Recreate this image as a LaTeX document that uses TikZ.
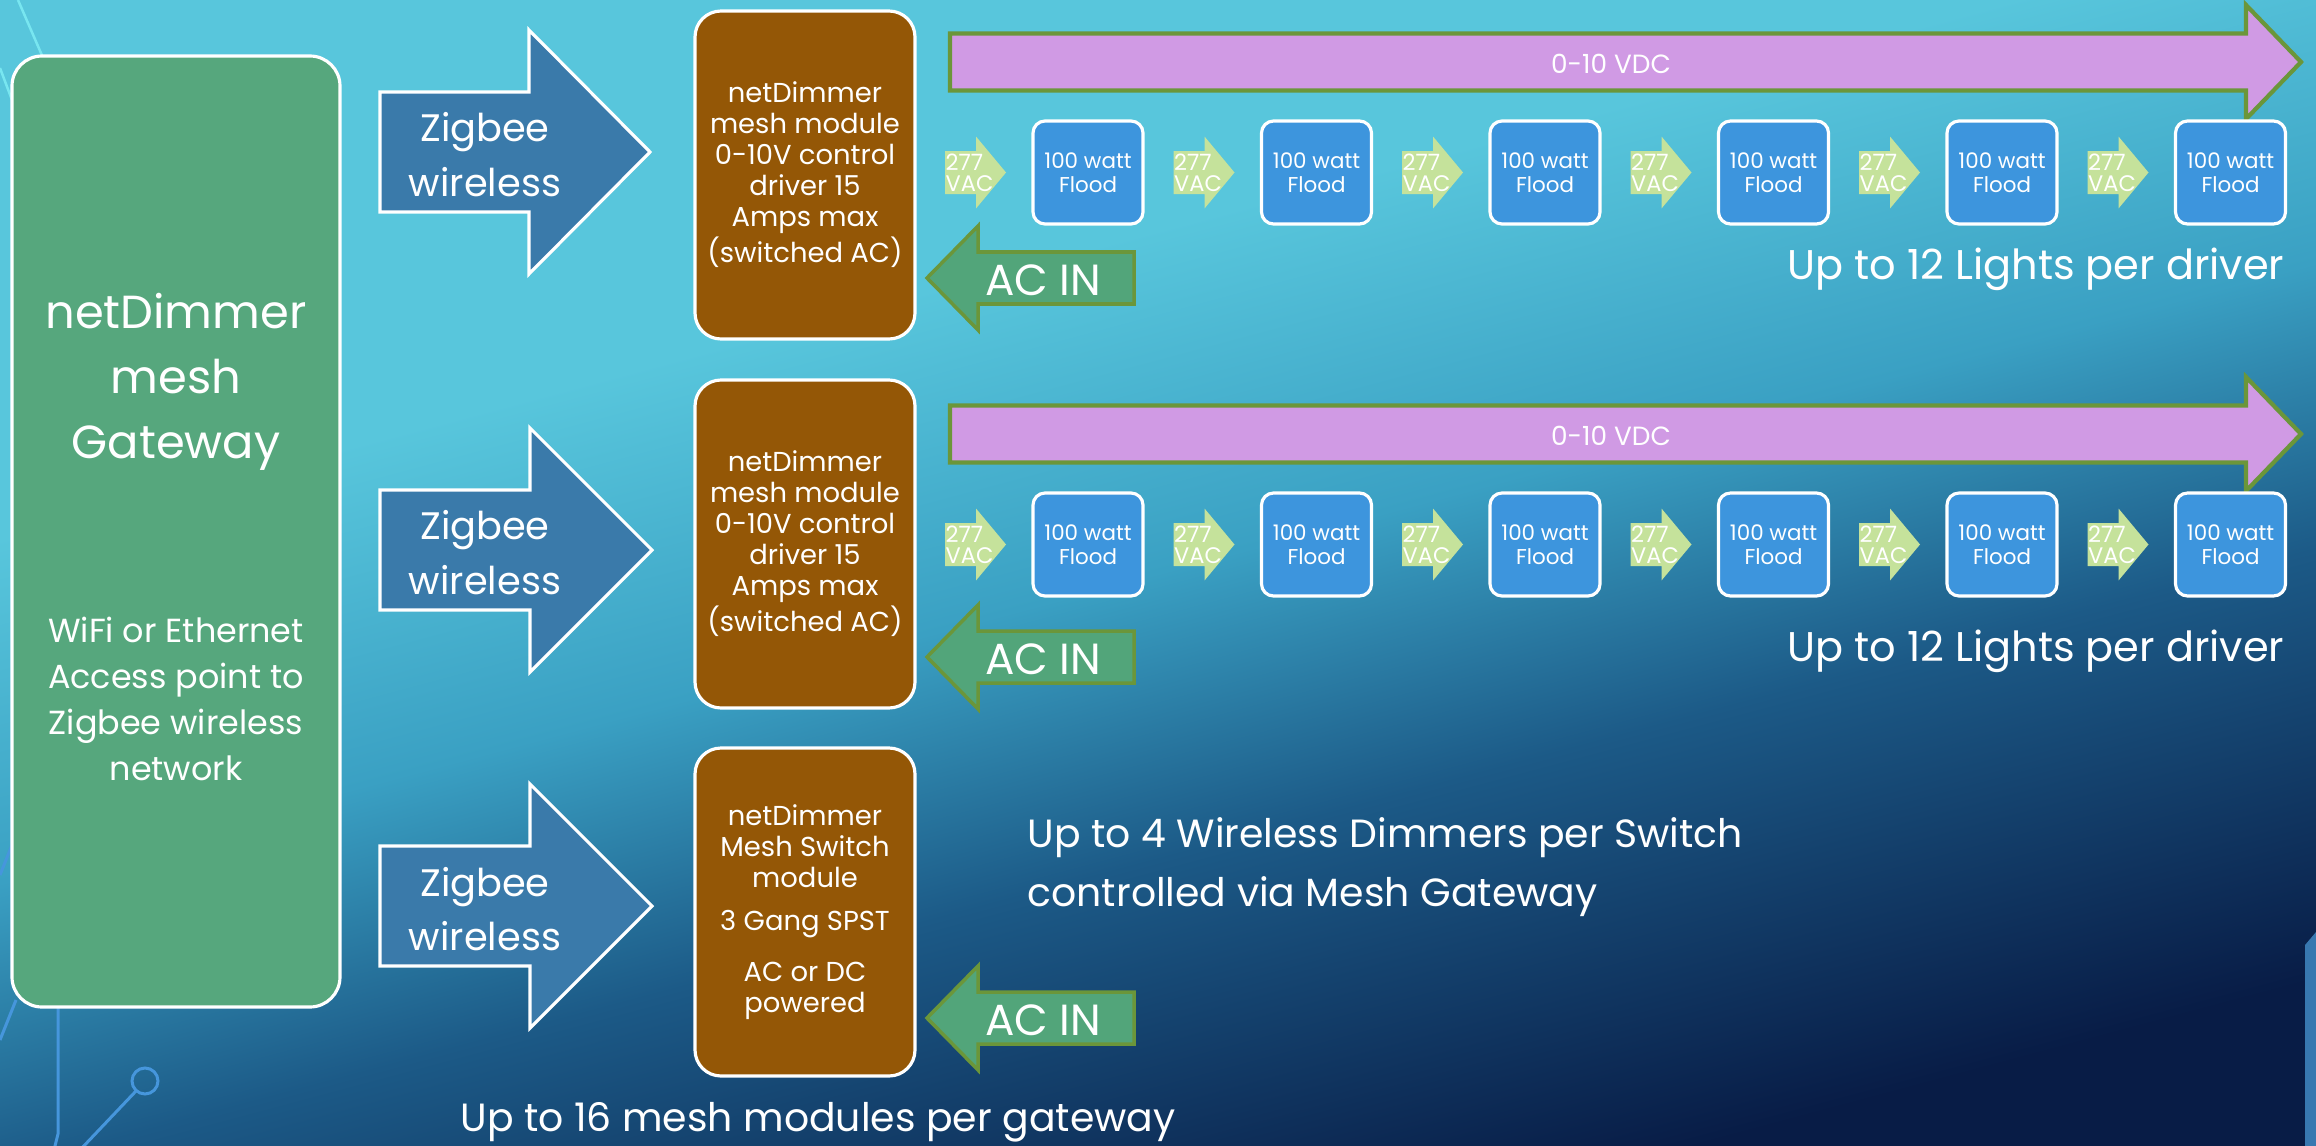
\documentclass[tikz,border=0pt]{standalone}
\usepackage{fontspec}
\setmainfont{Poppins}
\usepackage{tikz}
\usetikzlibrary{positioning}
\definecolor{bgnavy}{RGB}{8, 28, 70}
\definecolor{bgdeep}{RGB}{28, 90, 135}
\definecolor{bgmid}{RGB}{58, 160, 195}
\definecolor{bglight}{RGB}{88, 198, 220}
\definecolor{gwgreen}{RGB}{86, 167, 125}
\definecolor{zigblue}{RGB}{58, 122, 170}
\definecolor{modbrown}{RGB}{148, 87, 6}
\definecolor{acgreen}{RGB}{82, 165, 122}
\definecolor{olive}{RGB}{107, 150, 58}
\definecolor{vdcpurple}{RGB}{208, 154, 228}
\definecolor{floodblue}{RGB}{61, 149, 221}
\definecolor{vacgreen}{RGB}{197, 226, 155}
\definecolor{wirecyan}{RGB}{120, 230, 240}
\definecolor{wireblue}{RGB}{70, 150, 220}
\pgfdeclareverticalshading{slidebg}{100bp}{color(0bp)=(bgnavy); color(25bp)=(bgnavy);
  color(40bp)=(bgdeep); color(50bp)=(bgmid); color(62bp)=(bglight); color(100bp)=(bglight)}
% block arrow: style, back x, head base x, tip x, centre y, body half, head half
\newcommand{\blockarrow}[7]{
  \path[#1] ({#2}, {#5 - #6}) -- ({#3}, {#5 - #6}) -- ({#3}, {#5 - #7}) -- ({#4}, {#5})
    -- ({#3}, {#5 + #7}) -- ({#3}, {#5 + #6}) -- ({#2}, {#5 + #6}) -- cycle;
}

\begin{document}
\begin{tikzpicture}[x=0.1mm, y=-0.1mm,
  every node/.style={text=white, inner sep=0},
  gateway/.style={draw=white, line width=0.9pt, fill=gwgreen, rounded corners=3mm},
  module/.style={draw=white, line width=0.9pt, fill=modbrown, rounded corners=2.6mm,
    minimum width=22mm, minimum height=32.8mm, align=center,
    font=\fontsize{7.8}{8.8}\selectfont},
  flood/.style={draw=white, line width=0.9pt, fill=floodblue, rounded corners=1.2mm,
    minimum width=11mm, minimum height=10.3mm, align=center,
    font=\fontsize{6.1}{6.8}\selectfont},
  zigbee/.style={draw=white, line width=0.9pt, fill=zigblue},
  acin/.style={draw=olive, line width=1pt, fill=acgreen},
  vdc/.style={draw=olive, line width=1.2pt, fill=vdcpurple},
  vac/.style={fill=vacgreen},
  ziglabel/.style={align=center, font=\fontsize{10.9}{15.6}\selectfont},
  aclabel/.style={font=\fontsize{12.4}{14}\selectfont},
  vaclabel/.style={align=left, font=\fontsize{6.4}{6}\selectfont},
  caption/.style={font=\fontsize{11.2}{17}\selectfont}]

  \useasboundingbox (0, 0) rectangle (2316, 1145);
  \clip (0, 0) rectangle (2316, 1145);
  \shade[shading=slidebg, shading angle=15] (0, 0) rectangle (2316, 1145);

  % circuit lines
  \draw[wirecyan, line width=0.25mm] (18, 0) -- (44, 60);
  \draw[wirecyan, line width=0.25mm] (0, 68) -- (12, 100);
  \draw[wireblue, line width=0.3mm] (0, 875) -- (14, 840);
  \draw[wireblue, line width=0.3mm] (0, 1040) -- (16, 1000);
  \draw[wireblue, line width=0.3mm] (58, 1000) -- (58, 1134) -- (54, 1150);
  \draw[wireblue, line width=0.3mm] (145, 1081) circle (13);
  \draw[wireblue, line width=0.3mm] (136, 1091) -- (80, 1150);
  \fill[wireblue!80!black] (2305, 1150) -- (2305, 945) -- (2316, 932) -- (2316, 1150) -- cycle;

  % gateway
  \node[gateway, minimum width=32.8mm, minimum height=95.1mm] (gw) at (176, 531.5) {};
  \node[align=center, font=\fontsize{13.2}{18.5}\selectfont] (gwtitle) at (176, 382)
    {netDimmer\\mesh\\Gateway};
  \node[align=center, font=\fontsize{9.5}{13.1}\selectfont] (gwnote) at (176, 699)
    {WiFi or Ethernet\\Access point to\\Zigbee wireless\\network};

  % zigbee links
  \blockarrow{zigbee}{380}{529}{650}{152}{60}{122}
  \node[ziglabel] (ziga) at (485, 155) {Zigbee\\wireless};
  \blockarrow{zigbee}{380}{530}{652}{550}{60}{122}
  \node[ziglabel] (zigb) at (485, 553) {Zigbee\\wireless};
  \blockarrow{zigbee}{380}{530}{652}{906}{60}{122}
  \node[ziglabel] (zigc) at (485, 909) {Zigbee\\wireless};

  % mesh modules
  \node[module] (moda) at (805, 175)
    {netDimmer\\mesh module\\0-10V control\\driver 15\\Amps max\\(switched AC)};
  \node[module] (modb) at (805, 544)
    {netDimmer\\mesh module\\0-10V control\\driver 15\\Amps max\\(switched AC)};
  \node[module] (modc) at (805, 912)
    {netDimmer\\Mesh Switch\\module\\[3.6pt]3 Gang SPST\\[5.6pt]AC or DC\\powered};

  % AC feeds
  \blockarrow{acin}{1134}{978}{927}{278}{26}{52}
  \node[aclabel] (aca) at (1043, 280) {AC IN};
  \blockarrow{acin}{1134}{978}{927}{657}{26}{52}
  \node[aclabel] (acb) at (1043, 659) {AC IN};
  \blockarrow{acin}{1134}{978}{927}{1018}{26}{52}
  \node[aclabel] (acc) at (1043, 1020) {AC IN};

  % driver rows
  \foreach \r/\y/\cy in {a/172.5/269, b/544.5/651} {
    \blockarrow{vdc}{950}{2246}{2301}{\y - 110.5}{28.5}{57}
    \node[font=\fontsize{7.5}{8}\selectfont] (vdc\r) at (1611, \y - 109) {0-10 VDC};
    \foreach \i in {0, ..., 5} {
      \pgfmathsetmacro{\bx}{1033 + 228.5 * \i}
      \blockarrow{vac}{\bx - 88}{\bx - 57}{\bx - 27}{\y}{21.5}{36}
      \node[vaclabel, anchor=west] (vac\r\i) at (\bx - 88, \y) {277\\VAC};
      \node[flood] (flood\r\i) at (\bx + 55, \y) {100 watt\\Flood};
    }
    \node[caption, anchor=east, font=\fontsize{11.8}{17}\selectfont] (cap\r) at (2285, \cy)
      {Up to 12 Lights per driver};
  }

  \node[caption, anchor=west, align=left] (capsw) at (1027, 867)
    {Up to 4 Wireless Dimmers per Switch\\controlled via Mesh Gateway};
  \node[caption] (capgw) at (818, 1122) {Up to 16 mesh modules per gateway};

\end{tikzpicture}
\end{document}
